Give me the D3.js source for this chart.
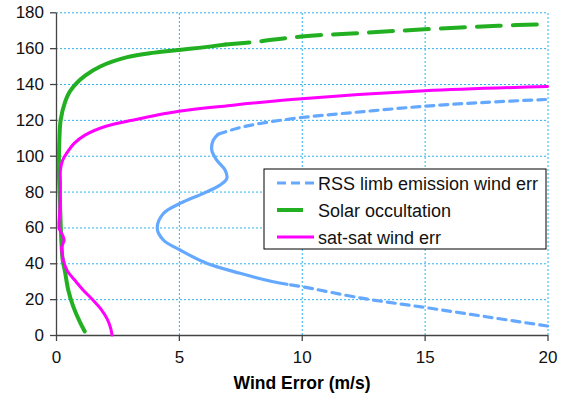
<!DOCTYPE html>
<html>
<head>
<meta charset="utf-8">
<script src="https://cdn.jsdelivr.net/npm/d3@7"></script>
<style>
    body { margin: 0; background: #fff; }
    svg { font-family: Arial, "Liberation Sans", sans-serif; }
    .grid line { stroke: #2ab4ee; stroke-width: 1; stroke-dasharray: 2,2; }
    .grid .domain { display: none; }
    .axis path, .axis line { stroke: #444; stroke-width: 1.3; }
    .axis text { font-size: 17px; fill: #111; }
    .line { fill: none; stroke-linejoin: round; stroke-linecap: round; }
</style>
</head>
<body>
<svg id="simContainer" width="563" height="398"></svg>
<script>

/*    ========    DATA    =========    */

// [wind error (m/s), altitude] pairs, bottom to top
var rssTop = [[6.6, 112], [7.35, 115.2], [8.3, 118], [10.0, 121.3], [12.5, 124.6],
    [15.0, 127.6], [17.5, 129.8], [20.0, 131.4]];
var rssMid = [[9.4, 28.3], [8.84, 29.7], [7.49, 34.4], [6.13, 40], [5.05, 47.4],
    [4.37, 53], [4.12, 59.5], [4.37, 67.8], [5.05, 73.4], [6.0, 79], [6.67, 83.6],
    [6.95, 87.3], [6.88, 92], [6.54, 97.5], [6.34, 103], [6.4, 108.7], [6.6, 112]];
var rssBottom = [[20.0, 5], [17.5, 10.2], [15.0, 15.4], [12.5, 20.4], [10.0, 27], [9.4, 28.3]];

var solarSolid = [[1.17, 2], [0.98, 7], [0.70, 16], [0.50, 25], [0.37, 35], [0.27, 42],
    [0.22, 52], [0.19, 62], [0.16, 75], [0.12, 90], [0.12, 100], [0.14, 110], [0.19, 120],
    [0.37, 130], [0.55, 135.5], [0.8, 140], [1.2, 144.8], [1.8, 149.8], [2.9, 155],
    [4.0, 157.5], [5.0, 159], [5.9, 160.3], [6.9, 162]];
var solarDashed = [[6.9, 162], [8.3, 163.8], [10.0, 166.5], [12.4, 168.5], [15.0, 170.5],
    [18.0, 172.5], [20.0, 173.4]];

var satsat = [[2.28, 0], [2.22, 4], [2.08, 9], [1.85, 14], [1.5, 19.5], [1.11, 25],
    [0.77, 30.5], [0.45, 36], [0.30, 41.8], [0.23, 49], [0.33, 53], [0.23, 56.7],
    [0.13, 59.5], [0.15, 68], [0.17, 75], [0.18, 85], [0.18, 92], [0.27, 97.5], [0.43, 101.3],
    [0.75, 107], [1.18, 111.5], [2.0, 116.3], [3.1, 119.8], [5.0, 124.8], [7.2, 128.2],
    [10.0, 131.8], [15.0, 136.2], [20.0, 138.6]];

var X_TICKS = [0, 5, 10, 15, 20];
var Y_TICKS = [0, 20, 40, 60, 80, 100, 120, 140, 160, 180];
var LEGEND_LABELS = ["RSS limb emission wind err", "Solar occultation", "sat-sat wind err"];
var X_TITLE = "Wind Error (m/s)";

/*    ========    SETTINGS    =========    */

var svg = d3.select('#simContainer');

var color_rss = "#64a8ff";
var color_solar = "#22b022";
var color_sat = "#ff00ff";

// plot frame in pixels
var plotLeft = 56, plotRight = 547.5, plotTop = 12.3, plotBottom = 335;

var scale_x = d3.scaleLinear().domain([0, 20]).range([plotLeft, plotRight]);
var scale_y = d3.scaleLinear().domain([0, 180]).range([plotBottom, plotTop]);

/*    ========    GRID AND AXES    =========    */

svg.append("g")
    .attr("class", "grid")
    .attr("transform", "translate(0," + plotBottom + ")")
    .call(d3.axisBottom(scale_x)
        .tickValues(X_TICKS.slice(1))
        .tickSize(-(plotBottom - plotTop))
        .tickFormat(""));

svg.append("g")
    .attr("class", "grid")
    .attr("transform", "translate(" + plotLeft + ",0)")
    .call(d3.axisLeft(scale_y)
        .tickValues(Y_TICKS.slice(1))
        .tickSize(-(plotRight - plotLeft))
        .tickFormat(""));

svg.append("g")
    .attr("class", "axis")
    .attr("transform", "translate(0," + plotBottom + ")")
    .call(d3.axisBottom(scale_x)
        .tickValues(X_TICKS)
        .tickSize(6)
        .tickSizeOuter(0)
        .tickPadding(10));

svg.append("g")
    .attr("class", "axis")
    .attr("transform", "translate(" + plotLeft + ",0)")
    .call(d3.axisLeft(scale_y)
        .tickValues(Y_TICKS)
        .tickSize(6)
        .tickSizeOuter(0)
        .tickPadding(6));

svg.append("text")
    .attr("x", 302)
    .attr("y", 389)
    .attr("text-anchor", "middle")
    .style("font-size", "17.5px")
    .style("font-weight", "bold")
    .text(X_TITLE);

/*    ========    LINES    =========    */

var line = d3.line()
    .x(function(d) { return scale_x(d[0]); })
    .y(function(d) { return scale_y(d[1]); })
    .curve(d3.curveCatmullRom.alpha(0.5));

function addLine(data, color, width, dash) {
    svg.append("path")
        .datum(data)
        .attr("class", "line")
        .attr("d", line)
        .attr("stroke", color)
        .attr("stroke-width", width)
        .attr("stroke-dasharray", dash);
}

addLine(rssBottom, color_rss, 3.2, "8,6");
addLine(rssMid, color_rss, 3.2, null);
addLine(rssTop, color_rss, 3.2, "8,6");

addLine(solarSolid, color_solar, 4, null);
addLine(solarDashed, color_solar, 4, "24,12");

addLine(satsat, color_sat, 3, null);

/*    ========    LEGEND    =========    */

var legend = svg.append("g").attr("transform", "translate(264,169)");

legend.append("rect")
    .attr("width", 282)
    .attr("height", 80)
    .attr("fill", "#fff")
    .attr("stroke", "#000")
    .attr("stroke-width", 1);

var samples = [
    { color: color_rss, width: 3, dash: "9,5", len: 37 },
    { color: color_solar, width: 4, dash: null, len: 26 },
    { color: color_sat, width: 3, dash: null, len: 37 }
];

LEGEND_LABELS.forEach(function(label, i) {
    var cy = 14 + i * 27;
    legend.append("line")
        .attr("x1", 13)
        .attr("x2", 13 + samples[i].len)
        .attr("y1", cy)
        .attr("y2", cy)
        .attr("stroke", samples[i].color)
        .attr("stroke-width", samples[i].width)
        .attr("stroke-dasharray", samples[i].dash);
    legend.append("text")
        .attr("x", 54)
        .attr("y", cy + 6.5)
        .style("font-size", "18px")
        .attr("fill", "#111")
        .text(label);
});

</script>
</body>
</html>
